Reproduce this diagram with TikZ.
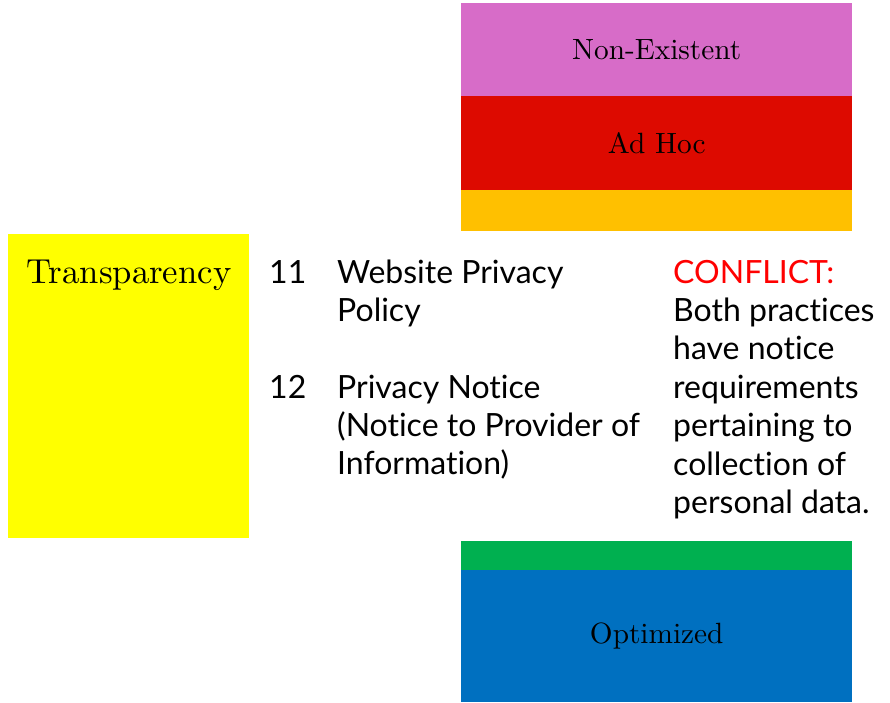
\documentclass[tikz,border=0pt]{standalone}
\usepackage{fontspec}
\newfontfamily\lato{Lato}[Ligatures=NoCommon]
\newfontfamily\lmten{lmroman10-regular.otf}
\definecolor{cpink}{HTML}{D76CC8}
\definecolor{cred}{HTML}{DD0A00}
\definecolor{corange}{HTML}{FFC000}
\definecolor{cyellow}{HTML}{FFFF00}
\definecolor{cgreen}{HTML}{00B050}
\definecolor{cblue}{HTML}{0070C0}
\definecolor{cconf}{HTML}{FF0000}
\begin{document}
\begin{tikzpicture}[x=1pt,y=-1pt,
  band/.style={anchor=north west,inner sep=0pt,minimum width=391pt,font=\lmten\fontsize{29.3}{34}\selectfont},
  body/.style={anchor=base west,inner sep=0pt,font=\lato\fontsize{32}{38.4}\selectfont}]
\useasboundingbox[fill=white] (0,0) rectangle (890,702);
% top stack
\node[band,fill=cpink,minimum height=93pt] (ne) at (461,3) {Non-Existent};
\node[band,fill=cred,minimum height=94pt] (ah) at (461,96) {Ad Hoc};
\node[band,fill=corange,minimum height=41pt] (df) at (461,190) {};
% bottom stack
\node[band,fill=cgreen,minimum height=29pt] (mg) at (461,541) {};
\node[band,fill=cblue,minimum height=132pt] (op) at (461,570) {Optimized};
% Transparency
\node[anchor=north west,inner sep=0pt,fill=cyellow,minimum width=241pt,minimum height=304pt] (tr) at (8,234) {};
\node[anchor=base,inner sep=0pt,font=\lmten\fontsize{34.7}{38}\selectfont] (trl) at (129,283) {Transparency};
% practices
\node[body] (n11) at (269,283) {11};
\node[body] (p11) at (337,283) {\parbox[t]{330pt}{\raggedright Website Privacy\\Policy}};
\node[body] (n12) at (269,398) {12};
\node[body] (p12) at (337,398) {\parbox[t]{330pt}{\raggedright Privacy Notice\\(Notice to Provider of\\Information)}};
% conflict
\node[body] (cf) at (673,283) {\parbox[t]{215pt}{\raggedright\leavevmode\textcolor{cconf}{CONFLICT:}\\Both practices\\have notice\\requirements\\pertaining to\\collection of\\personal data.}};
\end{tikzpicture}
\end{document}
